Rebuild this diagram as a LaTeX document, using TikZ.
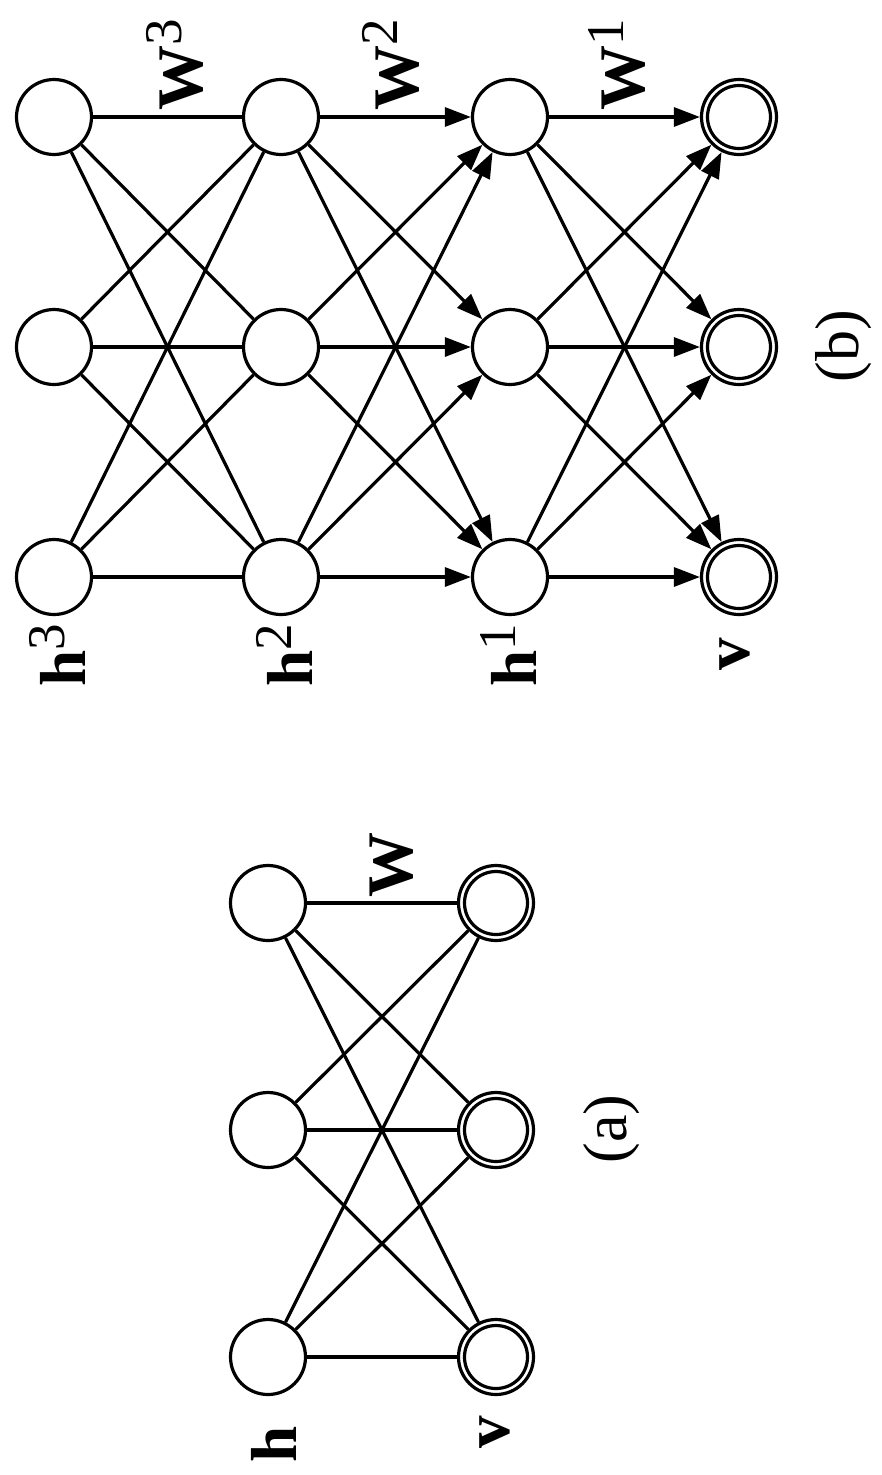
\documentclass[tikz,border=0pt]{standalone}
\usepackage{fontspec}
\setmainfont{Liberation Serif}
\usetikzlibrary{arrows.meta}
\newcommand{\boldlab}[1]{{\fontsize{65}{70}\selectfont\bfseries #1}}
\newcommand{\suplab}[2]{{\fontsize{65}{70}\selectfont\bfseries #1}\raisebox{21pt}{\fontsize{53}{56}\selectfont #2}}
\newcommand{\caplab}[1]{{\fontsize{62}{66}\selectfont\mdseries #1}}
\begin{document}
\begin{tikzpicture}[x=1pt,y=-1pt,
  unit/.style={circle, draw, line width=3.2pt, minimum size=75pt, inner sep=0pt},
  visible/.style={unit, path picture={\draw[line width=3.2pt] (path picture bounding box.center) circle[radius=31.5pt];}},
  edge/.style={line width=3.2pt},
  arr/.style={edge, -{Triangle[length=26pt,width=19pt]}},
  lab/.style={rotate=90, anchor=base, inner sep=0pt, outer sep=0pt},
]
\useasboundingbox (0,0) rectangle (882,1475);

% ---------- panel (b) ----------
\node[unit] (t1) at (54,117) {};
\node[unit] (t2) at (54,347) {};
\node[unit] (t3) at (54,577) {};
\node[unit] (s1) at (281,117) {};
\node[unit] (s2) at (281,347) {};
\node[unit] (s3) at (281,577) {};
\node[unit] (r1) at (510,117) {};
\node[unit] (r2) at (510,347) {};
\node[unit] (r3) at (510,577) {};
\node[visible] (v1) at (739,117) {};
\node[visible] (v2) at (739,347) {};
\node[visible] (v3) at (739,577) {};

\foreach \i in {1,2,3}{
  \foreach \j in {1,2,3}{
    \draw[edge] (t\i) -- (s\j);
    \draw[arr] (s\i) -- (r\j);
    \draw[arr] (r\i) -- (v\j);
  }
}

\node[lab] (lh3) at (85,655) {\suplab{h}{3}};
\node[lab] (lh2) at (312,655) {\suplab{h}{2}};
\node[lab] (lh1) at (536,655) {\suplab{h}{1}};
\node[lab] (lv) at (749,654) {\boldlab{v}};
\node[lab] (lw3) at (202,65) {\suplab{W}{3}};
\node[lab] (lw2) at (418,65) {\suplab{W}{2}};
\node[lab] (lw1) at (644,65) {\suplab{W}{1}};
\node[lab] (capb) at (858,346) {\caplab{(b)}};

% ---------- panel (a) ----------
\node[unit] (ah1) at (268,903) {};
\node[unit] (ah2) at (268,1130) {};
\node[unit] (ah3) at (268,1357) {};
\node[visible] (av1) at (496,903) {};
\node[visible] (av2) at (496,1130) {};
\node[visible] (av3) at (496,1357) {};

\foreach \i in {1,2,3}{
  \foreach \j in {1,2,3}{
    \draw[edge] (ah\i) -- (av\j);
  }
}

\node[lab] (lah) at (296,1444) {\boldlab{h}};
\node[lab] (lav) at (509,1432) {\boldlab{v}};
\node[lab] (law) at (412,865) {\boldlab{W}};
\node[lab] (capa) at (626,1129) {\caplab{(a)}};
\end{tikzpicture}
\end{document}
